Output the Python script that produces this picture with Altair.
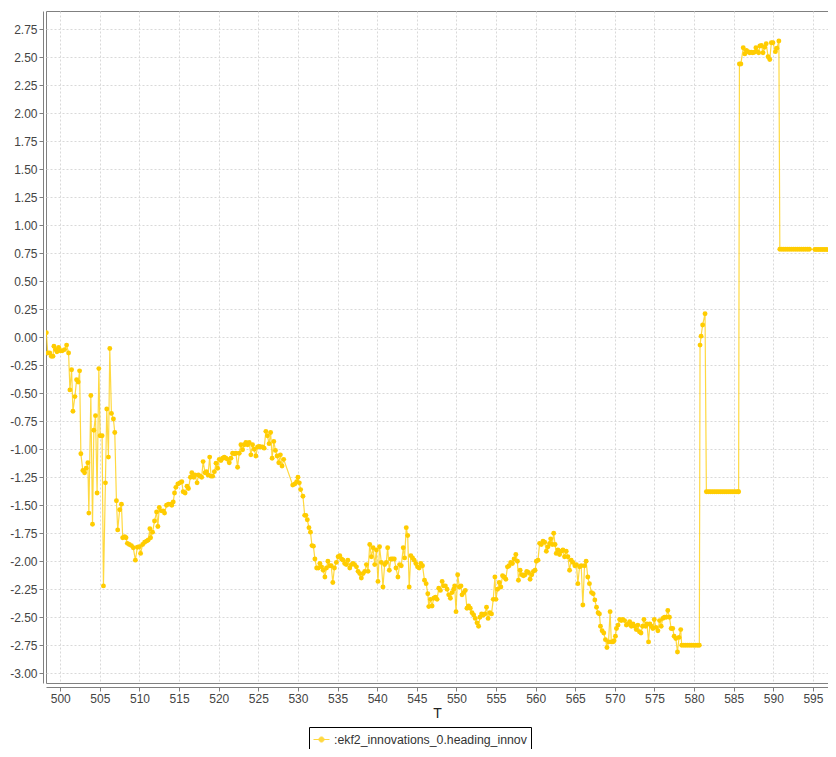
import altair as alt
import pandas as pd

SERIES = ":ekf2_innovations_0.heading_innov"

# segment 1: 498 - 510 s
t1 = [498.24, 498.42, 498.67, 498.87, 499.08, 499.2, 499.42, 499.58, 499.8, 500.0, 500.25, 500.55, 500.8,
      501.05, 501.22, 501.43, 501.6, 501.85, 502.06, 502.27, 502.44, 502.6, 502.85, 503.07, 503.27, 503.48,
      503.61, 503.86, 504.07, 504.24, 504.45, 504.65, 504.87, 505.03, 505.28, 505.45, 505.7, 505.87, 506.08,
      506.25, 506.46, 506.71, 506.88, 507.09, 507.25, 507.5, 507.72, 507.88, 508.13, 508.3, 508.47, 508.72,
      508.98, 509.22, 509.48, 509.73, 509.98]
v1 = [0.04, -0.14, -0.14, -0.17, -0.17, -0.08, -0.11, -0.13, -0.09, -0.12, -0.12, -0.11, -0.07,
      -0.14, -0.47, -0.29, -0.66, -0.53, -0.38, -0.40, -0.30, -1.04, -1.19, -1.21, -1.17, -1.12,
      -1.57, -0.52, -1.67, -0.83, -0.70, -1.39, -0.28, -0.88, -0.88, -2.22, -1.30, -0.64, -1.07,
      -0.10, -0.68, -0.73, -0.85, -1.46, -1.72, -1.54, -1.49, -1.79, -1.78, -1.79, -1.84, -1.85,
      -1.86, -1.88, -1.99, -1.875, -1.87]

# segment 2: 510 - 519 s
t2 = [510.14, 510.4, 510.65, 510.9, 511.1, 511.31, 511.4, 511.65, 511.9, 512.16, 512.32, 512.5, 512.75,
      513.0, 513.16, 513.41, 513.66, 513.92, 514.08, 514.26, 514.42, 514.59, 514.84, 515.09, 515.34,
      515.51, 515.76, 516.0, 516.18, 516.43, 516.6, 516.85, 517.0, 517.27, 517.44, 517.65, 517.85,
      518.03, 518.28, 518.45, 518.65, 518.86]
v2 = [-1.93, -1.85, -1.83, -1.82, -1.81, -1.71, -1.79, -1.74, -1.64, -1.56, -1.69, -1.52, -1.55,
      -1.55, -1.57, -1.50, -1.49, -1.49, -1.50, -1.47, -1.39, -1.34, -1.31, -1.30, -1.29,
      -1.38, -1.39, -1.33, -1.35, -1.25, -1.21, -1.25, -1.23, -1.30, -1.23, -1.24, -1.25,
      -1.11, -1.21, -1.20, -1.23, -1.07]

# segment 3: 519 - 528.2 s
t3 = [519.03, 519.24, 519.45, 519.66, 519.86, 520.07, 520.28, 520.49, 520.7, 520.91, 521.12, 521.33,
      521.54, 521.75, 521.96, 522.17, 522.38, 522.59, 522.8, 523.01, 523.22, 523.43, 523.64, 523.85,
      524.06, 524.27, 524.48, 524.69, 524.9, 525.1, 525.3, 525.52, 525.73, 525.95, 526.15, 526.36,
      526.55, 526.74, 526.95, 527.16, 527.37, 527.58, 527.78, 527.99, 528.2]
v3 = [-1.24, -1.24, -1.20, -1.125, -1.17, -1.09, -1.10, -1.08, -1.07, -1.08, -1.09, -1.12,
      -1.08, -1.035, -1.04, -1.035, -1.16, -1.035, -0.96, -1.005, -0.96, -0.94, -0.96, -0.94,
      -1.05, -0.96, -1.00, -1.06, -0.98, -0.975, -0.98, -0.98, -0.99, -0.84, -0.88, -0.95,
      -0.85, -1.08, -0.93, -1.01, -1.06, -1.12, -1.05, -1.15, -1.09]

# segment 4: 529 - 546.4 s
t4 = [529.34, 529.6, 529.84, 530.0, 530.17, 530.34, 530.63, 530.85, 531.0, 531.18, 531.39, 531.58,
      531.77, 531.95, 532.14, 532.36, 532.57, 532.77, 532.98, 533.19, 533.4, 533.6, 533.78, 534.0,
      534.2, 534.4, 534.6, 534.85, 535.07, 535.28, 535.5, 535.7, 535.9, 536.1, 536.3, 536.54, 536.75,
      536.95, 537.15, 537.38, 537.59, 537.8, 538.0, 538.22, 538.43, 538.64, 538.85, 539.06, 539.27,
      539.48, 539.69, 539.9, 540.1, 540.3, 540.52, 540.73, 540.94, 541.15, 541.32, 541.53, 541.74,
      541.95, 542.16, 542.37, 542.62, 542.83, 543.04, 543.29, 543.46, 543.67, 543.85, 544.04, 544.25,
      544.46, 544.67, 544.88, 545.09, 545.3, 545.51, 545.72, 545.97, 546.18, 546.39]
v4 = [-1.32, -1.31, -1.29, -1.25, -1.30, -1.36, -1.42, -1.59, -1.59, -1.63, -1.70, -1.74,
      -1.86, -1.865, -1.98, -2.06, -2.06, -2.02, -2.05, -2.08, -2.14, -2.06, -2.00, -2.04,
      -2.04, -2.19, -2.06, -2.01, -1.96, -1.95, -1.98, -1.99, -2.02, -2.03, -1.99, -2.06, -2.03,
      -2.02, -2.03, -2.05, -2.09, -2.11, -2.15, -2.11, -2.09, -2.03, -2.09, -1.85, -1.96,
      -1.88, -2.03, -1.90, -2.18, -1.87, -2.01, -2.23, -2.03, -2.01, -1.88, -2.08, -1.98,
      -1.98, -1.98, -2.06, -2.14, -2.03, -2.04, -1.88, -1.97, -1.70, -1.77, -2.23, -1.95,
      -1.97, -1.99, -2.02, -2.05, -2.06, -2.02, -2.04, -2.17, -2.20, -2.29]

# segment 5: 546.5 - 560 s
t5 = [546.51, 546.72, 546.93, 547.14, 547.35, 547.56, 547.77, 547.98, 548.2, 548.4, 548.61, 548.82,
      549.03, 549.24, 549.45, 549.66, 549.78, 549.95, 550.16, 550.37, 550.58, 550.71, 550.92, 551.12,
      551.33, 551.54, 551.75, 551.97, 552.18, 552.38, 552.6, 552.8, 552.97, 553.18, 553.39, 553.6,
      553.8, 554.0, 554.22, 554.43, 554.65, 554.86, 554.99, 555.19, 555.4, 555.61, 555.82, 556.03,
      556.24, 556.44, 556.65, 556.86, 557.07, 557.28, 557.5, 557.7, 557.83, 558.04, 558.25, 558.46,
      558.67, 558.88, 559.09, 559.3, 559.51, 559.72, 559.93]
v5 = [-2.405, -2.34, -2.40, -2.33, -2.32, -2.34, -2.24, -2.26, -2.18, -2.22, -2.22, -2.25,
      -2.30, -2.33, -2.28, -2.25, -2.22, -2.45, -2.12, -2.23, -2.22, -2.30, -2.28, -2.26,
      -2.42, -2.40, -2.42, -2.46, -2.48, -2.51, -2.55, -2.58, -2.50, -2.47, -2.48, -2.47,
      -2.41, -2.51, -2.46, -2.47, -2.34, -2.14, -2.34, -2.25, -2.19, -2.23, -2.13, -2.14,
      -2.16, -2.05, -2.04, -2.01, -2.02, -1.98, -1.94, -2.00, -2.17, -2.08, -2.12, -2.13,
      -2.12, -2.09, -2.10, -2.16, -2.12, -2.09, -2.08]

# segment 6: 560 - 570 s
t6 = [560.09, 560.3, 560.5, 560.72, 560.93, 561.14, 561.35, 561.56, 561.77, 561.9, 562.1, 562.28,
      562.45, 562.6, 562.81, 563.02, 563.23, 563.44, 563.65, 563.86, 564.07, 564.28, 564.49, 564.7,
      564.95, 565.15, 565.33, 565.54, 565.75, 565.96, 566.17, 566.37, 566.58, 566.79, 567.05, 567.26,
      567.47, 567.68, 567.88, 568.05, 568.18, 568.39, 568.6, 568.81, 569.0, 569.2, 569.4, 569.55,
      569.75, 569.9]
v6 = [-2.00, -1.99, -1.84, -1.85, -1.82, -1.83, -1.91, -1.87, -1.84, -1.80, -1.85, -1.75,
      -1.85, -1.93, -1.90, -1.94, -1.91, -1.90, -1.96, -1.91, -1.96, -2.08, -1.99, -2.01,
      -2.04, -2.03, -2.20, -2.05, -2.04, -2.39, -2.04, -2.00, -2.14, -2.20, -2.28, -2.29,
      -2.345, -2.41, -2.46, -2.47, -2.58, -2.62, -2.64, -2.70, -2.77, -2.72, -2.45, -2.72,
      -2.72, -2.71]

# segment 7: 570 - 578.5 s
t7 = [570.07, 570.2, 570.4, 570.6, 570.8, 571.0, 571.23, 571.45, 571.66, 571.87, 572.08, 572.29,
      572.5, 572.7, 572.9, 573.1, 573.3, 573.5, 573.67, 573.88, 574.05, 574.25, 574.42, 574.6,
      574.8, 574.97, 575.18, 575.43, 575.64, 575.85, 576.05, 576.26, 576.47, 576.68, 576.89, 577.1,
      577.3, 577.48, 577.69, 577.9, 578.1, 578.31]
v7 = [-2.67, -2.60, -2.57, -2.52, -2.53, -2.52, -2.53, -2.57, -2.56, -2.54, -2.58, -2.56,
      -2.58, -2.61, -2.57, -2.63, -2.64, -2.58, -2.52, -2.58, -2.56, -2.72, -2.56, -2.58,
      -2.60, -2.52, -2.59, -2.62, -2.53, -2.58, -2.51, -2.50, -2.50, -2.44, -2.50, -2.60,
      -2.60, -2.67, -2.69, -2.81, -2.68, -2.61]

# segment 8: hold near -2.75, jump, hold near -1.38
t8 = [578.44, 578.7, 578.95, 579.2, 579.45, 579.7, 579.95, 580.2, 580.45, 580.66,
      580.75, 580.88, 581.08, 581.38,
      581.55, 581.8, 582.05, 582.3, 582.55, 582.8, 583.05, 583.3, 583.55, 583.8, 584.05,
      584.3, 584.55, 584.8, 585.05, 585.3, 585.55, 585.62]
v8 = [-2.75, -2.75, -2.75, -2.75, -2.75, -2.75, -2.75, -2.75, -2.75, -2.75,
      -0.07, 0.01, 0.11, 0.21,
      -1.38, -1.38, -1.38, -1.38, -1.38, -1.38, -1.38, -1.38, -1.38, -1.38, -1.38,
      -1.38, -1.38, -1.38, -1.38, -1.38, -1.38, -1.38]

# segment 9: high plateau 585.7 - 590.7 s
t9 = [585.72, 585.9, 586.2, 586.4, 586.6, 586.8, 587.0, 587.2, 587.4, 587.6, 587.8, 588.0, 588.15,
      588.3, 588.5, 588.7, 588.9, 589.1, 589.34, 589.55, 589.75, 589.95, 590.26, 590.45, 590.7]
v9 = [2.44, 2.44, 2.585, 2.53, 2.56, 2.55, 2.54, 2.545, 2.54, 2.545, 2.585, 2.55, 2.54,
      2.60, 2.605, 2.54, 2.59, 2.62, 2.505, 2.48, 2.63, 2.63, 2.55, 2.58, 2.645]

# segment 10: hold near 0.785 to the end
t10 = [590.82, 591.07, 591.32, 591.57, 591.82, 592.07, 592.32, 592.57, 592.82, 593.07, 593.32,
       593.57, 593.82, 594.07, 594.32, 594.55, 595.25, 595.5, 595.75, 596.0, 596.25, 596.5, 596.75]
v10 = [0.786, 0.786, 0.786, 0.786, 0.786, 0.786, 0.786, 0.786, 0.786, 0.786, 0.786,
       0.786, 0.786, 0.786, 0.786, 0.786, 0.784, 0.784, 0.784, 0.784, 0.784, 0.784, 0.784]

X_TICKS = [500, 505, 510, 515, 520, 525, 530, 535, 540, 545, 550, 555, 560, 565, 570, 575, 580, 585, 590, 595]
Y_TICKS = [-3.0, -2.75, -2.5, -2.25, -2.0, -1.75, -1.5, -1.25, -1.0, -0.75, -0.5, -0.25, 0.0,
           0.25, 0.5, 0.75, 1.0, 1.25, 1.5, 1.75, 2.0, 2.25, 2.5, 2.75]

T = t1 + t2 + t3 + t4 + t5 + t6 + t7 + t8 + t9 + t10
V = v1 + v2 + v3 + v4 + v5 + v6 + v7 + v8 + v9 + v10
df = pd.DataFrame({"T": T, "v": V, "series": [SERIES] * len(T)})

FONT = "Liberation Sans"
GOLD = "#FFCC00"

x = alt.X("T:Q",
          scale=alt.Scale(domain=[498.2, 596.9], nice=False, zero=False),
          axis=alt.Axis(values=X_TICKS, format="d", title="T", offset=4))
y = alt.Y("v:Q",
          scale=alt.Scale(domain=[-3.087, 2.913], nice=False, zero=False),
          axis=alt.Axis(values=Y_TICKS, title=None, offset=3,
                        labelExpr="replace(format(datum.value, '.2f'), '\u2212', '-')"))
color = alt.Color(
    "series:N",
    scale=alt.Scale(range=[GOLD]),
    legend=alt.Legend(
        title=None, orient="none", legendX=263, legendY=716,
        symbolType="M-1,0H1M0.32,0A0.32,0.32,0,1,1,-0.32,0A0.32,0.32,0,1,1,0.32,0",
        symbolSize=256, symbolStrokeWidth=1, symbolFillColor=GOLD, symbolStrokeColor=GOLD,
        labelFont=FONT, labelFontSize=12.3, labelColor="#333333", labelLimit=400,
        strokeColor="#000000", fillColor="#ffffff", padding=4, labelOffset=4,
    ),
)

base = alt.Chart(df).encode(x=x, y=y, color=color)
line = base.mark_line(strokeWidth=1.2, opacity=0.75, clip=True)
pts = base.mark_point(filled=True, size=24, opacity=1, clip=True)

chart = (
    alt.layer(line, pts)
    .properties(
        width=782, height=672,
        padding={"left": 38, "top": 3, "right": 0, "bottom": 66},
        autosize=alt.AutoSizeParams(type="none"),
        background="#ffffff",
    )
    .configure_view(stroke="#808080", strokeWidth=1)
    .configure_axis(
        domainColor="#808080", tickColor="#808080", tickSize=4,
        labelFont=FONT, labelFontSize=12, labelColor="#444444", labelPadding=2,
        labelFlush=False, labelOverlap=False,
        grid=True, gridColor="#d9d9d9", gridDash=[2, 2], gridWidth=1,
        titleFont=FONT, titleFontSize=14, titleColor="#222222", titleFontWeight="normal", titlePadding=2,
    )
)

chart.save("out.html", embed_options={"renderer": "svg", "actions": False})
